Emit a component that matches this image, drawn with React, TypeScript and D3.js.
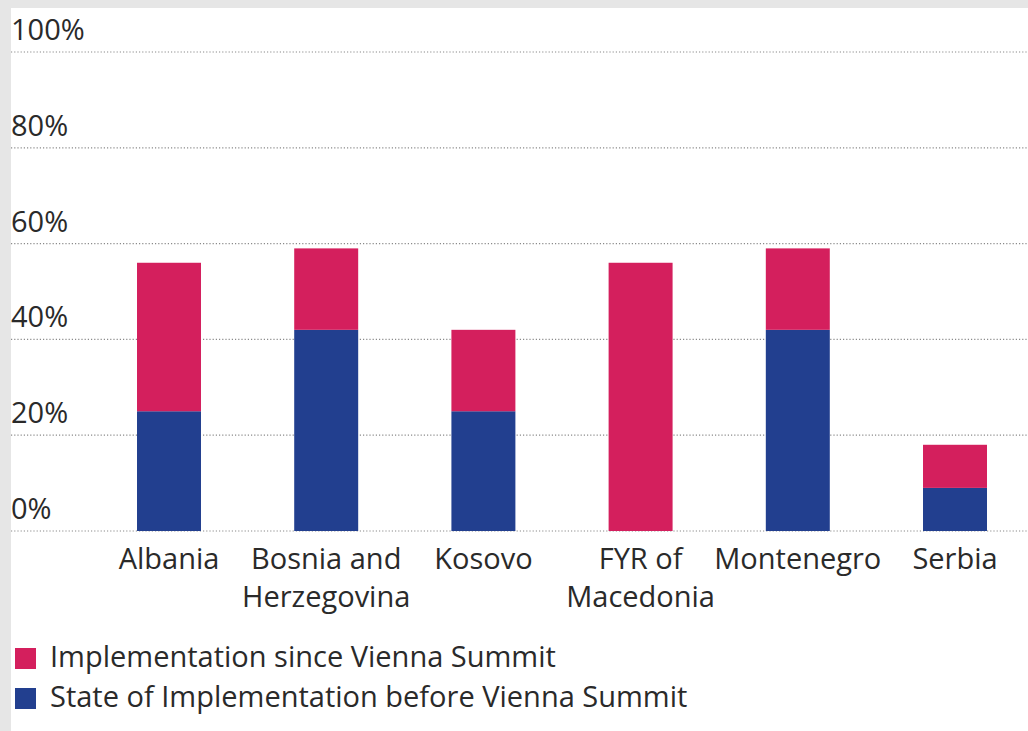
import React from "react";
import * as d3 from "d3";

// chart values (percent)
const countries = ["Albania", "Bosnia and\nHerzegovina", "Kosovo", "FYR of\nMacedonia", "Montenegro", "Serbia"];
const before = [25, 42, 25, 0, 42, 9];
const since = [31, 17, 17, 56, 17, 9];
const yTicks = [0, 20, 40, 60, 80, 100];
const seriesNames = ["Implementation since Vienna Summit", "State of Implementation before Vienna Summit"];
const colors = ["#d41f5d", "#223f8f"];

const W = 1028;
const H = 731;
const FONT = "'Open Sans', 'Noto Sans', sans-serif";

export default function App() {
  const y = d3.scaleLinear().domain([0, 100]).range([531, 52]);
  const x = d3
    .scaleBand()
    .domain(countries)
    .range([90.4, 1033.6])
    .paddingInner(0.593)
    .paddingOuter(0.2965);

  const rows = countries.map((c, i) => ({ c, before: before[i], since: since[i] }));
  const stacked = d3.stack<any>().keys(["before", "since"])(rows);

  return (
    <svg
      width={W}
      height={H}
      style={{ position: "absolute", left: 0, top: 0, fontFamily: FONT }}
    >
      <rect x={0} y={0} width={W} height={H} fill="#e6e6e6" />
      <rect x={11} y={8} width={W - 11} height={H - 8} fill="#ffffff" />

      {/* gridlines + y labels */}
      {yTicks.map((t) => (
        <g key={t}>
          <line
            x1={11}
            x2={W}
            y1={y(t)}
            y2={y(t)}
            stroke="#8a8a8a"
            strokeWidth={1.2}
            strokeDasharray="1.2,2"
          />
          <text x={11} y={y(t) - 12} fontSize={29} fill="#2a2a2a">
            {t}%
          </text>
        </g>
      ))}

      {/* bars */}
      {stacked.map((layer, li) => (
        <g key={layer.key} fill={li === 0 ? colors[1] : colors[0]}>
          {layer.map((d, i) =>
            d[1] - d[0] > 0 ? (
              <rect
                key={i}
                x={x(countries[i])}
                width={x.bandwidth()}
                y={y(d[1])}
                height={y(d[0]) - y(d[1])}
              />
            ) : null
          )}
        </g>
      ))}

      {/* category labels */}
      {countries.map((c) => (
        <text
          key={c}
          x={(x(c) as number) + x.bandwidth() / 2}
          y={569}
          textAnchor="middle"
          fontSize={29}
          fill="#2a2a2a"
        >
          {c.split("\n").map((line, j) => (
            <tspan key={j} x={(x(c) as number) + x.bandwidth() / 2} dy={j === 0 ? 0 : 38}>
              {line}
            </tspan>
          ))}
        </text>
      ))}

      {/* legend */}
      {seriesNames.map((s, i) => (
        <g key={s} transform={`translate(15, ${648 + i * 40})`}>
          <rect width={21} height={21} fill={colors[i]} />
          <text x={35} y={19} fontSize={29} fill="#2a2a2a">
            {s}
          </text>
        </g>
      ))}
    </svg>
  );
}
